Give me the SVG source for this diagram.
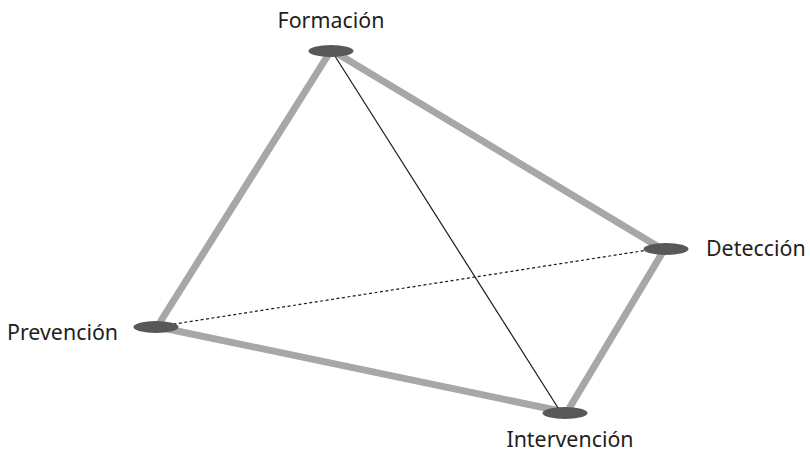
<svg xmlns="http://www.w3.org/2000/svg" width="810" height="452" viewBox="0 0 810 452">
<style>
.thick{stroke:#a7a7a9;stroke-width:7;fill:none}
.thin{stroke:#1a1a1a;stroke-width:1.2;fill:none}
.dash{stroke:#1a1a1a;stroke-width:1.2;stroke-dasharray:3,2.5;fill:none}
.node{fill:#58585a}
.lbl{font-family:"Noto Sans","Open Sans",sans-serif;font-size:21.4px;fill:#231f20}
</style>
<rect width="810" height="452" fill="#fff"/>
<g id="connectors">
<line class="thick" x1="330" y1="52" x2="157" y2="327"/>
<line class="thick" x1="333" y1="51" x2="662" y2="249"/>
<line class="thick" x1="664" y1="250" x2="567" y2="412"/>
<line class="thick" x1="158" y1="327" x2="565" y2="412"/>
<line class="thin" x1="333" y1="53" x2="560" y2="411"/>
<line class="dash" x1="168" y1="325" x2="648" y2="250"/>
</g>
<g id="formacion"><ellipse class="node" cx="331" cy="51" rx="22.5" ry="6"/><text class="lbl" x="331" y="28" text-anchor="middle">Formación</text></g>
<g id="deteccion"><ellipse class="node" cx="666" cy="249" rx="22.5" ry="6"/><text class="lbl" x="706" y="256">Detección</text></g>
<g id="prevencion"><ellipse class="node" cx="156" cy="327" rx="22.5" ry="6"/><text class="lbl" x="7" y="340">Prevención</text></g>
<g id="intervencion"><ellipse class="node" cx="565" cy="413" rx="22.5" ry="6"/><text class="lbl" x="570" y="447" text-anchor="middle">Intervención</text></g>
</svg>
